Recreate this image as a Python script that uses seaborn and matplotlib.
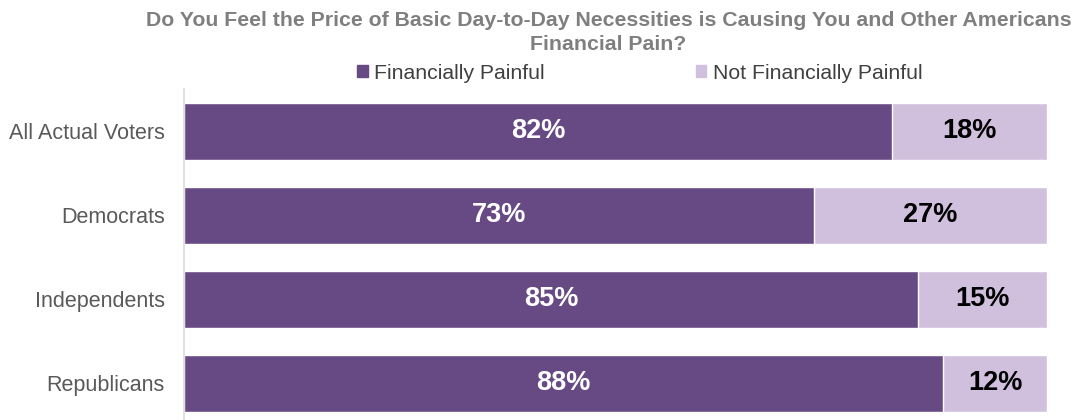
import pandas as pd
import matplotlib.pyplot as plt
import seaborn as sns
from matplotlib.patches import Patch

# -----------------------------
# Data
# -----------------------------
groups = ["All Actual Voters", "Democrats", "Independents", "Republicans"]
painful = [82, 73, 85, 88]
not_painful = [18, 27, 15, 12]

dark = "#674A84"
light = "#D0C0DE"

df = pd.DataFrame({"Group": groups, "Painful": painful, "NotPainful": not_painful})
df["Total"] = df["Painful"] + df["NotPainful"]

sns.set_style("white")
plt.rcParams["font.family"] = ["Liberation Sans", "DejaVu Sans"]

fig = plt.figure(figsize=(10.75, 4.2), dpi=100)
ax = fig.add_axes([0.1712, 0.0, 0.974 - 0.1712, 0.787])

# stacked bars: full length in light, painful share on top in dark
sns.barplot(data=df, y="Group", x="Total", color=light, orient="h",
            width=0.68, saturation=1, ax=ax)
sns.barplot(data=df, y="Group", x="Painful", color=dark, orient="h",
            width=0.68, saturation=1, ax=ax)

for i, (p, n) in enumerate(zip(painful, not_painful)):
    ax.text(p / 2, i, f"{p}%", ha="center", va="center", color="white",
            fontsize=19.5, fontweight="bold")
    ax.text(p + n / 2, i, f"{n}%", ha="center", va="center", color="black",
            fontsize=19.5, fontweight="bold")

ax.set_xlim(0, 100)
ax.set_ylim(3.44, -0.5)
ax.set_xlabel("")
ax.set_ylabel("")
ax.set_xticks([])
ax.tick_params(axis="y", length=0, labelsize=15.5, labelcolor="#595959", pad=14)
for s in ["top", "right", "bottom"]:
    ax.spines[s].set_visible(False)
ax.spines["left"].set_color("#D9D9D9")
ax.spines["left"].set_linewidth(1.2)

# title
fig.text(0.566, 0.975, "Do You Feel the Price of Basic Day-to-Day Necessities is Causing You and Other Americans\nFinancial Pain?",
         ha="center", va="top", fontsize=15.3, fontweight="bold", color="#7F7F7F",
         linespacing=1.4)

# legend
handles = [Patch(color=dark, label="Financially Painful"),
           Patch(color=light, label="Not Financially Painful")]
fig.legend(handles=handles, loc="center", bbox_to_anchor=(0.595, 0.826), ncol=2,
           frameon=False, fontsize=15.3, handlelength=0.5, handleheight=0.5,
           handletextpad=0.3, columnspacing=7.1, labelcolor="#404040")

fig.savefig("out.png", dpi=100)
